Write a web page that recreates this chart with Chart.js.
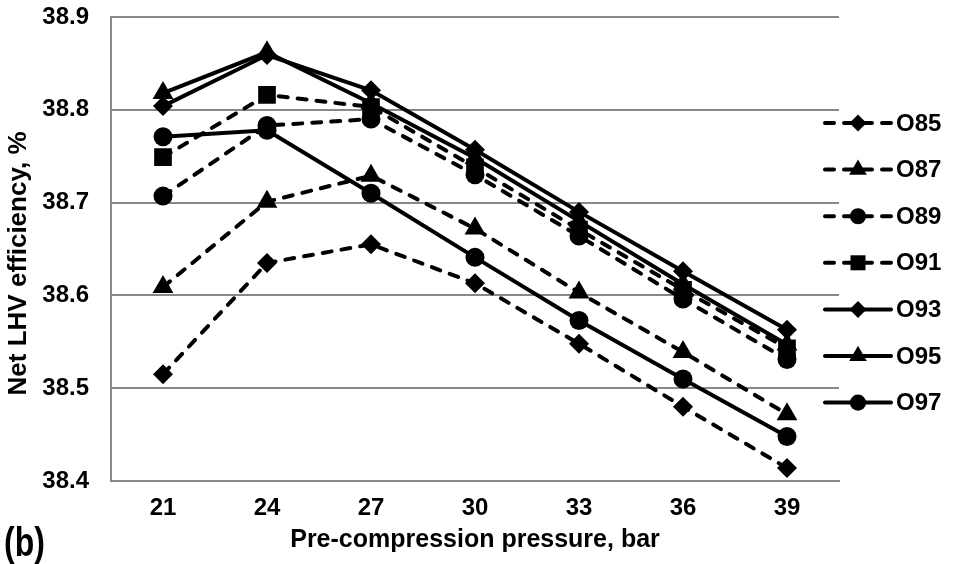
<!DOCTYPE html>
<html>
<head>
<meta charset="utf-8">
<script src="https://cdn.jsdelivr.net/npm/chart.js@4"></script>
<style>
  html, body { margin: 0; padding: 0; background: #fff; }
  #wrap { width: 953px; height: 564px; position: relative; }
</style>
</head>
<body>
<div id="wrap"><canvas id="chart"></canvas></div>
<script>
// Data
const pressures = ['21', '24', '27', '30', '33', '36', '39'];
const o85 = [38.515, 38.635, 38.655, 38.613, 38.548, 38.480, 38.414];
const o87 = [38.609, 38.701, 38.729, 38.672, 38.603, 38.539, 38.472];
const o89 = [38.707, 38.783, 38.790, 38.730, 38.664, 38.596, 38.531];
const o91 = [38.749, 38.816, 38.803, 38.738, 38.671, 38.606, 38.543];
const o93 = [38.804, 38.859, 38.821, 38.757, 38.690, 38.626, 38.563];
const o95 = [38.818, 38.862, 38.807, 38.748, 38.680, 38.612, 38.547];
const o97 = [38.771, 38.778, 38.710, 38.641, 38.573, 38.510, 38.448];
const yTicks = [38.4, 38.5, 38.6, 38.7, 38.8, 38.9];

const FONT = '"Liberation Sans", Arial, sans-serif';
const GRID = '#888888';
const DASH = [9, 10];

// marker styles: [pointStyle, radius]
const markers = {
    diamond: ['rectRot', 10],
    triangle: ['triangle', 12],
    circle: ['circle', 9.5],
    square: ['rect', 12.5]
};

function series(label, data, marker, dashed) {
    return {
        label: label,
        data: data,
        borderColor: '#000',
        backgroundColor: '#000',
        borderWidth: 4,
        borderDash: dashed ? DASH : [],
        borderCapStyle: 'round',
        pointStyle: markers[marker][0],
        pointRadius: markers[marker][1],
        pointHoverRadius: markers[marker][1],
        pointBorderWidth: 0,
        pointBackgroundColor: '#000',
        tension: 0
    };
}

const datasets = [
    series('O85', o85, 'diamond', true),
    series('O87', o87, 'triangle', true),
    series('O89', o89, 'circle', true),
    series('O91', o91, 'square', true),
    series('O93', o93, 'diamond', false),
    series('O95', o95, 'triangle', false),
    series('O97', o97, 'circle', false)
];

// Legend drawn by hand: line sample with the marker in the middle
const sideLegend = {
    id: 'sideLegend',
    afterDraw(chart) {
        const ctx = chart.ctx;
        const area = chart.chartArea;
        const x0 = area.right - 14;
        const x1 = area.right + 52;
        const xm = (x0 + x1) / 2;
        const top = 123;
        const step = 46.6;
        ctx.save();
        chart.data.datasets.forEach((ds, i) => {
            const y = top + i * step;
            ctx.strokeStyle = '#000';
            ctx.lineWidth = ds.borderWidth;
            ctx.lineCap = 'round';
            ctx.setLineDash(ds.borderDash);
            ctx.beginPath();
            ctx.moveTo(x0, y);
            ctx.lineTo(x1, y);
            ctx.stroke();
            ctx.setLineDash([]);
            ctx.fillStyle = '#000';
            Chart.helpers.drawPoint(ctx, {
                pointStyle: ds.pointStyle,
                radius: ds.pointRadius * 0.85,
                rotation: 0,
                borderWidth: 0
            }, xm, y);
            ctx.font = 'bold 24px ' + FONT;
            ctx.textBaseline = 'middle';
            ctx.textAlign = 'left';
            ctx.fillText(ds.label, x1 + 5, y + 1);
        });
        // panel tag (narrow, like the original)
        ctx.translate(4, 556);
        ctx.scale(0.8, 1);
        ctx.font = 'bold 40px ' + FONT;
        ctx.textBaseline = 'alphabetic';
        ctx.fillText('(b)', 0, 0);
        ctx.restore();
    }
};

new Chart(document.getElementById('chart'), {
    type: 'line',
    data: { labels: pressures, datasets: datasets },
    options: {
        responsive: true,
        maintainAspectRatio: false,
        animation: false,
        events: [],
        layout: { padding: { top: 17, right: 114, left: 0, bottom: 0 } },
        plugins: {
            legend: { display: false },
            tooltip: { enabled: false }
        },
        scales: {
            x: {
                offset: true,
                grid: { display: false, drawTicks: false, offset: true },
                border: { display: true, color: GRID, width: 2 },
                ticks: { color: '#000', font: { family: FONT, size: 24, weight: 'bold' }, padding: 13, maxRotation: 0 },
                title: {
                    display: true,
                    text: 'Pre-compression pressure, bar',
                    color: '#000',
                    font: { family: FONT, size: 25, weight: 'bold' },
                    padding: { top: 0, bottom: 9 }
                },
                afterFit: (scale) => { scale.height = 83; scale.paddingLeft = 0; scale.paddingRight = 0; }
            },
            y: {
                min: 38.4,
                max: 38.9,
                afterBuildTicks: (scale) => { scale.ticks = yTicks.map(v => ({ value: v })); },
                grid: { color: GRID, lineWidth: 2, drawTicks: false },
                border: { display: true, color: GRID, width: 2 },
                ticks: {
                    color: '#000',
                    font: { family: FONT, size: 24, weight: 'bold' },
                    padding: 22,
                    callback: (v) => Number(v).toFixed(1)
                },
                title: {
                    display: true,
                    // trailing spaces nudge the title down, as in the original
                    text: 'Net LHV efficiency, %    ',
                    color: '#000',
                    font: { family: FONT, size: 26, weight: 'bold' },
                    padding: { top: 3, bottom: 0 }
                },
                afterFit: (scale) => { scale.width = 111; scale.paddingTop = 0; scale.paddingBottom = 0; }
            }
        }
    },
    plugins: [sideLegend]
});
</script>
</body>
</html>
